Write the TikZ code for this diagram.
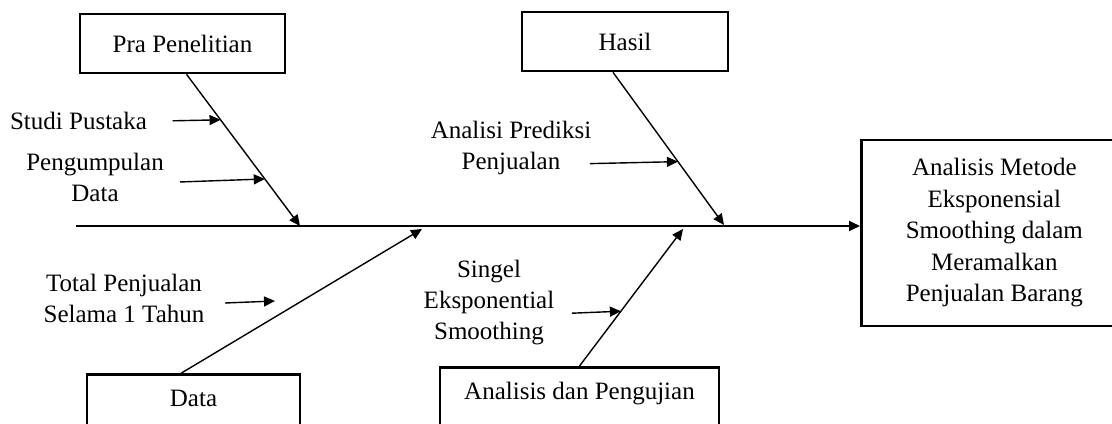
\documentclass[tikz,border=0pt]{standalone}
\usepackage{fontspec}
\setmainfont{Liberation Serif}
\usetikzlibrary{arrows.meta,calc}
\begin{document}
\begin{tikzpicture}[>={Triangle[length=5.5pt,width=5pt]},font=\fontsize{12.5}{15.5}\selectfont,x=.5pt,y=-.5pt,
        kotak/.style={draw,line width=1.3pt,inner sep=4pt},
        tulang/.style={->,line width=.7pt},
        sebab/.style={->,line width=.7pt}]
    \useasboundingbox (0,0) rectangle (1112,423);
    \clip (0,0) rectangle (1112,423);
    \node[kotak,minimum width=102.5pt,minimum height=29.5pt] (pra) at (182.5,43.5) {Pra Penelitian};
    \node[kotak,minimum width=103pt,minimum height=29.5pt] (hasil) at (625,41.5) {Hasil};
    \node[kotak,anchor=north,minimum width=106.5pt,text height=9pt,text depth=30pt,inner ysep=7pt] (data) at (193.5,373) {Data};
    \node[kotak,anchor=north,minimum width=139.5pt,text height=9pt,text depth=30pt,inner ysep=7pt] (uji) at (579.5,366) {Analisis dan Pengujian};
    \node[kotak,anchor=west,minimum width=133pt,minimum height=93pt,align=center,font=\fontsize{12.5}{15.75}\selectfont] (tujuan) at (860,233) {Analisis Metode\\Eksponensial\\Smoothing dalam\\Meramalkan\\Penjualan Barang};
    \coordinate (ekor) at (76,226);
    \draw[tulang,line width=.9pt] (ekor) -- (tujuan.west |- ekor);
    \coordinate (p1) at (300,226);
    \coordinate (p2) at (724,225);
    \coordinate (p3) at (422,229);
    \coordinate (p4) at (683,229);
    \draw[tulang] ([xshift=2pt]pra.south) -- (p1) coordinate[pos=.30] (s1) coordinate[pos=.69] (s2);
    \draw[tulang] ([xshift=-6pt]hasil.south) -- (p2) coordinate[pos=.585] (s3);
    \draw[tulang] ([xshift=-6pt]data.north) -- (p3);
    \draw[tulang] (uji.north) -- (p4) coordinate[pos=.40] (s5);
    \coordinate (s4) at (275,301);
    \node (studi) at (78.5,121) {Studi Pustaka};
    \node[align=center] (kumpul) at (95,177.5) {Pengumpulan\\Data};
    \node[align=center] (prediksi) at (511,148) {Analisi Prediksi\\Penjualan};
    \node[align=center] (total) at (124,298) {Total Penjualan\\Selama 1 Tahun};
    \node[align=center] (singel) at (489,302.5) {Singel\\Eksponential\\Smoothing};
    \draw[sebab] ($(s1)+(-48,1)$) -- (s1);
    \draw[sebab] ($(s2)+(-85,3)$) -- (s2);
    \draw[sebab] ($(s3)+(-88,2)$) -- (s3);
    \draw[sebab] ($(s4)+(-50,2)$) -- (s4);
    \draw[sebab] ($(s5)+(-49,2)$) -- (s5);
\end{tikzpicture}
\end{document}
